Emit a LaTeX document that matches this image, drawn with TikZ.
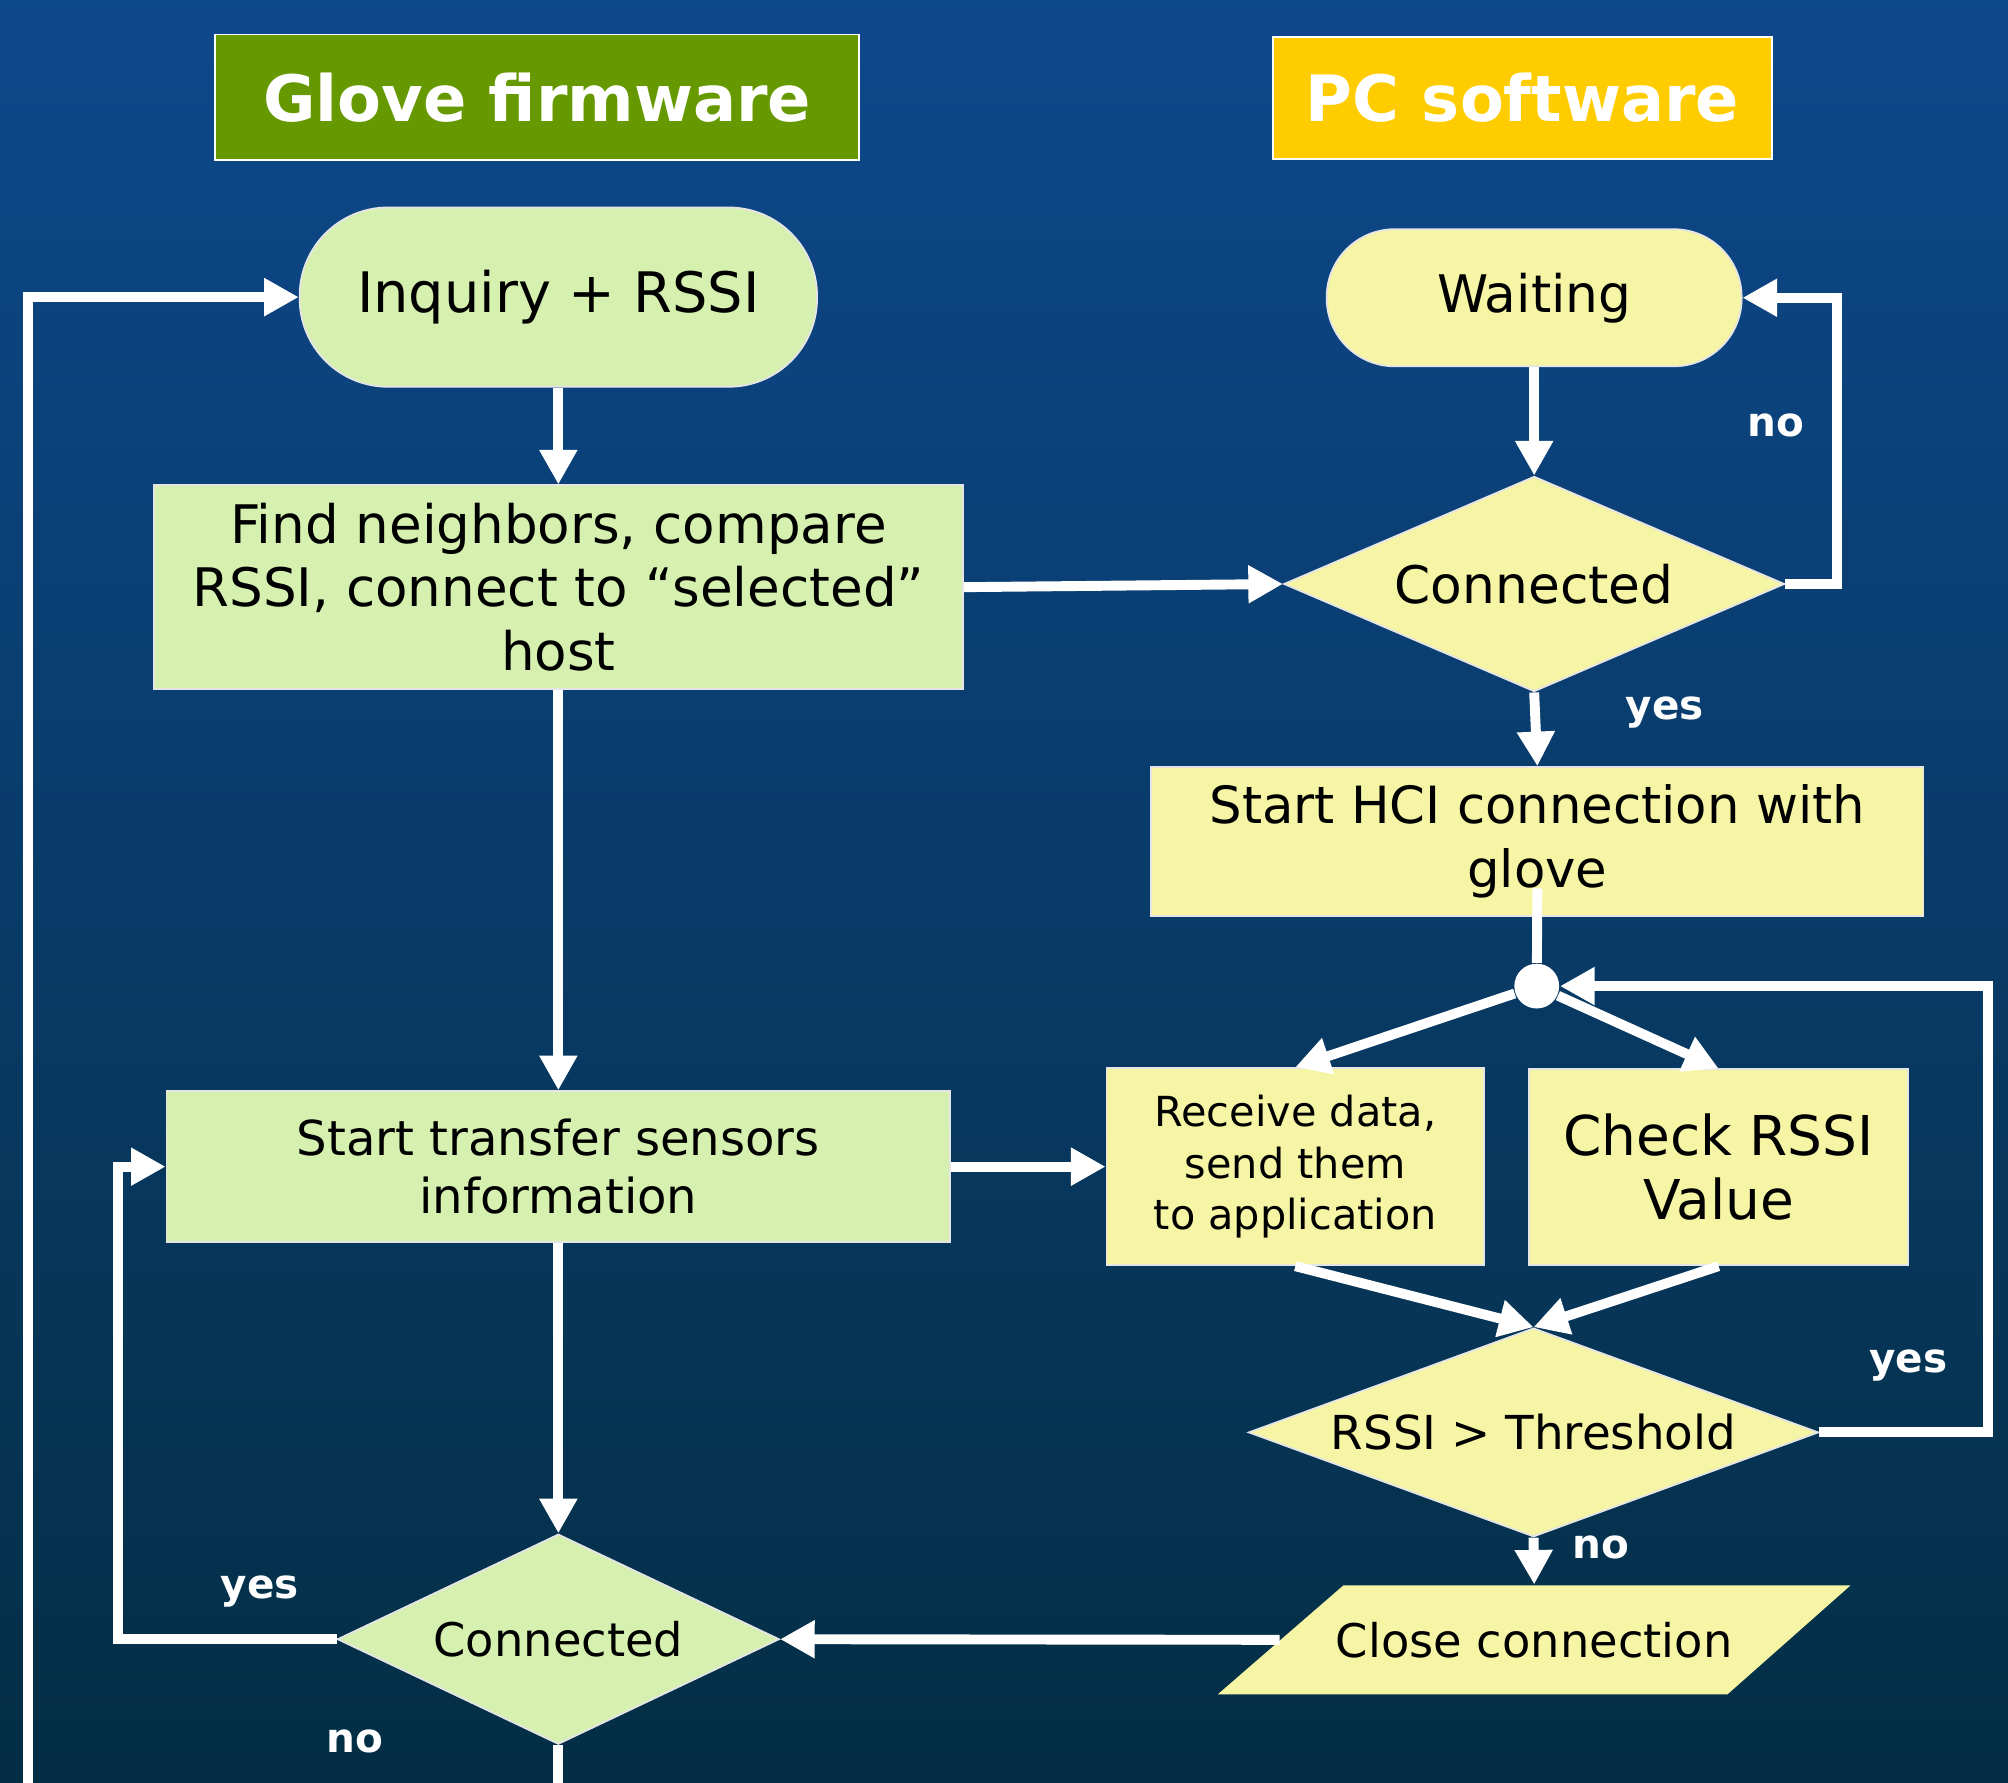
\documentclass[tikz,border=0pt]{standalone}
\usepackage{fontspec}
\setmainfont{DejaVu Sans}
\usetikzlibrary{arrows.meta,shapes.geometric}
\definecolor{glovegreen}{RGB}{102,153,0}
\definecolor{pcgold}{RGB}{255,204,0}
\definecolor{glovefill}{RGB}{214,240,176}
\definecolor{pcfill}{RGB}{245,245,165}
\definecolor{bgtop}{RGB}{14,72,140}
\definecolor{bgmid}{RGB}{5,56,105}
\definecolor{bgbot}{RGB}{3,46,68}
\begin{document}
\begin{tikzpicture}[x=0.1mm,y=-0.1mm,
    box/.style={draw=white!90!black,line width=0.4pt,inner sep=0pt,align=center,text=black},
    title/.style={box,draw=white,text=white,font=\fontsize{14.2}{17}\selectfont\bfseries},
    dec/.style={box,diamond},
    flow/.style={draw=white,line width=2.2pt,-{Triangle[length=2.7mm,width=2.8mm]}},
    plain/.style={draw=white,line width=2.2pt},
    lbl/.style={text=white,font=\fontsize{9}{11}\selectfont\bfseries}]
  \useasboundingbox (0,0) rectangle (1568,1392);
  \shade[top color=bgtop,middle color=bgmid,bottom color=bgbot] (0,0) rectangle (1568,1392);

  % glove side
  \node[title,fill=glovegreen,minimum width=50.3mm,minimum height=9.8mm] (glovehead) at (419.5,76) {Glove firmware};
  \node[box,fill=glovefill,rounded corners=6.9mm,minimum width=40.4mm,minimum height=14mm,font=\fontsize{12.4}{15}\selectfont] (inquiry) at (436,232) {Inquiry + RSSI};
  \node[box,fill=glovefill,minimum width=63.2mm,minimum height=15.9mm,font=\fontsize{11.8}{14.2}\selectfont] (find) at (436,458.5) {Find neighbors, compare\\RSSI, connect to “selected”\\host};
  \node[box,fill=glovefill,minimum width=61.2mm,minimum height=11.8mm,font=\fontsize{10.7}{12.8}\selectfont] (transfer) at (436,911) {Start transfer sensors\\information};
  \node[dec,fill=glovefill,shape aspect=2.1,minimum width=34.5mm,minimum height=16.4mm,font=\fontsize{10.3}{12}\selectfont] (glovecon) at (436,1280) {Connected};

  % pc side
  \node[title,fill=pcgold,minimum width=39mm,minimum height=9.5mm] (pchead) at (1189,76.5) {PC software};
  \node[box,fill=pcfill,rounded corners=5.3mm,minimum width=32.4mm,minimum height=10.7mm,font=\fontsize{11.5}{14}\selectfont] (waiting) at (1198,232.5) {Waiting};
  \node[dec,fill=pcfill,shape aspect=2.33,minimum width=39.1mm,minimum height=16.8mm,font=\fontsize{11.5}{14}\selectfont] (pccon) at (1198,456) {Connected};
  \node[box,fill=pcfill,minimum width=60.3mm,minimum height=11.6mm,font=\fontsize{11.4}{14.2}\selectfont] (hci) at (1200.5,657) {Start HCI connection with\\glove};
  \node[circle,fill=white,inner sep=0pt,minimum size=3.5mm] (fork) at (1200,770) {};
  \node[box,fill=pcfill,minimum width=29.5mm,minimum height=15.4mm,font=\fontsize{9.2}{11.4}\selectfont] (receive) at (1011.5,911) {Receive data,\\send them\\to application};
  \node[box,fill=pcfill,minimum width=29.6mm,minimum height=15.3mm,font=\fontsize{12.2}{14.2}\selectfont] (check) at (1342,911.5) {Check RSSI\\Value};
  \node[dec,fill=pcfill,shape aspect=2.73,minimum width=44.5mm,minimum height=16.3mm,font=\fontsize{10.4}{12}\selectfont] (thresh) at (1197.5,1118.5) {RSSI > Threshold};
  \fill[pcfill] (951,1323) -- (1049,1238) -- (1445,1238) -- (1349,1323) -- cycle;
  \node[inner sep=0pt,minimum width=39.6mm,minimum height=8.5mm,font=\fontsize{10.3}{12}\selectfont] (close) at (1198,1280.5) {Close connection};

  \coordinate (glovedown) at (436,1392);
  \coordinate (restart) at (22,1392);

  % connectors
  \draw[flow] (inquiry) -- (find);
  \draw[flow] (find) -- (transfer);
  \draw[flow] (transfer) -- (glovecon);
  \draw[flow] (find.east) -- (pccon.west);
  \draw[flow] (transfer.east) -- (receive.west);
  \draw[flow] (glovecon.west) -- ++(-171,0) |- (transfer.west);
  \draw[plain] (glovecon.south) -- (glovedown);
  \draw[flow] (restart) |- (inquiry.west);
  \draw[flow] (waiting) -- (pccon);
  \draw[flow] (pccon.east) -- ++(40,0) |- (waiting.east);
  \draw[flow] (pccon.south) -- (hci.north);
  \draw[plain] ([yshift=2.2mm]hci.south) -- (fork);
  \draw[flow] (fork) -- (receive.north);
  \draw[flow] (fork) -- (check.north);
  \draw[flow] (receive.south) -- (thresh.north);
  \draw[flow] (check.south) -- (thresh.north);
  \draw[flow] (thresh.east) -- ++(132,0) |- (fork);
  \draw[flow] (thresh.south) -- (close.north);
  \draw[flow] (close.west) -- (glovecon.east);

  % branch labels
  \node[lbl] (pcno) at (1387,332) {no};
  \node[lbl] (pcyes) at (1300,556) {yes};
  \node[lbl] (threshyes) at (1490,1066) {yes};
  \node[lbl] (threshno) at (1250,1208) {no};
  \node[lbl] (gloveyes) at (203,1243) {yes};
  \node[lbl] (gloveno) at (277,1360) {no};
\end{tikzpicture}
\end{document}
